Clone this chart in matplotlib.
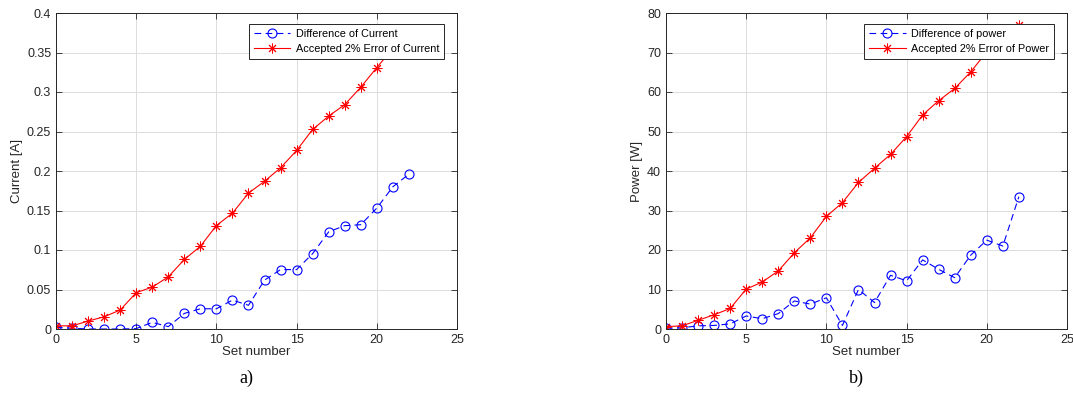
import matplotlib
matplotlib.use("Agg")
import matplotlib.pyplot as plt
import numpy as np

plt.rcParams["font.family"] = ["Liberation Sans", "DejaVu Sans"]

# ── Data ────────────────────────────────────────────────────────────────────
set_number = np.arange(23)

current_diff = [0.002, 0.001, 0.0, 0.0, 0.0, 0.0005, 0.0084, 0.003, 0.0197, 0.0256,
                0.0256, 0.0366, 0.030, 0.0618, 0.0752, 0.0752, 0.0954, 0.123, 0.1308,
                0.132, 0.153, 0.180, 0.196]
current_err = [0.004, 0.004, 0.010, 0.0155, 0.024, 0.046, 0.053, 0.066, 0.088, 0.1046,
               0.131, 0.1466, 0.172, 0.187, 0.204, 0.226, 0.2526, 0.2695, 0.284, 0.306,
               0.331, 0.355, 0.380]

power_diff = [0.2, 0.3, 0.8, 0.9, 1.3, 3.3, 2.6, 3.9, 7.1, 6.3, 7.9, 0.9, 10.0, 6.7,
              13.6, 12.2, 17.5, 15.1, 13.0, 18.7, 22.5, 21.0, 33.5]
power_err = [0.6, 0.8, 2.2, 3.6, 5.2, 10.1, 11.9, 14.7, 19.3, 23.1, 28.5, 32.0, 37.1,
             40.7, 44.2, 48.7, 54.2, 57.8, 60.9, 65.1, 70.2, 73.6, 77.0]

TICK_COLOR = "#262626"
ASTERISK = (8, 2, 0)   # MATLAB-style '*' (plus + cross)


def style_axes(ax):
    ax.grid(True, color="#dcdcdc", linewidth=0.7)
    ax.set_axisbelow(True)
    ax.tick_params(direction="in", top=True, right=True, labelsize=9,
                   colors=TICK_COLOR, length=4, width=0.6)
    for s in ax.spines.values():
        s.set_color(TICK_COLOR)
        s.set_linewidth(0.7)
    ax.set_xlim(0, 25)
    ax.set_xticks(np.arange(0, 26, 5))
    ax.set_xlabel("Set number", fontsize=9.5, color=TICK_COLOR, labelpad=0)


def panel(ax, diff, err, diff_label, err_label, ylabel, ylim, yticks, tag):
    ax.plot(set_number, diff, color="#0000ff", linestyle=(0, (6, 4)), linewidth=0.8,
            marker="o", markersize=6.5, markerfacecolor="none",
            markeredgewidth=0.8, label=diff_label)
    ax.plot(set_number, err, color="#ff0000", linestyle="-", linewidth=0.8,
            marker=ASTERISK, markersize=7, markeredgewidth=0.7, label=err_label)
    style_axes(ax)
    ax.set_ylim(*ylim)
    ax.set_yticks(yticks)
    ax.set_ylabel(ylabel, fontsize=9.5, color=TICK_COLOR, labelpad=3)
    leg = ax.legend(loc="upper right", fontsize=7.8, frameon=True, fancybox=False,
                    framealpha=1, edgecolor="#262626", borderpad=0.45,
                    labelspacing=0.45, handlelength=3.4, handletextpad=0.5,
                    borderaxespad=0, bbox_to_anchor=(0.968, 0.965))
    leg.get_frame().set_linewidth(0.7)
    ax.text(0.475, -0.155, tag, transform=ax.transAxes, ha="center", va="center",
            fontsize=13, family=["Liberation Serif", "DejaVu Serif"])


fig = plt.figure(figsize=(10.73, 4.0), dpi=100)
ax1 = fig.add_axes([0.0522, 0.1775, 0.3737, 0.79])
ax2 = fig.add_axes([0.6207, 0.1775, 0.3737, 0.79])

panel(ax1, current_diff, current_err, "Difference of Current",
      "Accepted 2% Error of Current", "Current [A]", (0, 0.4),
      [0, 0.05, 0.1, 0.15, 0.2, 0.25, 0.3, 0.35, 0.4], "a)")
ax1.set_yticklabels(["0", "0.05", "0.1", "0.15", "0.2", "0.25", "0.3", "0.35", "0.4"])

panel(ax2, power_diff, power_err, "Difference of power",
      "Accepted 2% Error of Power", "Power [W]", (0, 80),
      np.arange(0, 81, 10), "b)")

fig.savefig("out.png", dpi=100)
